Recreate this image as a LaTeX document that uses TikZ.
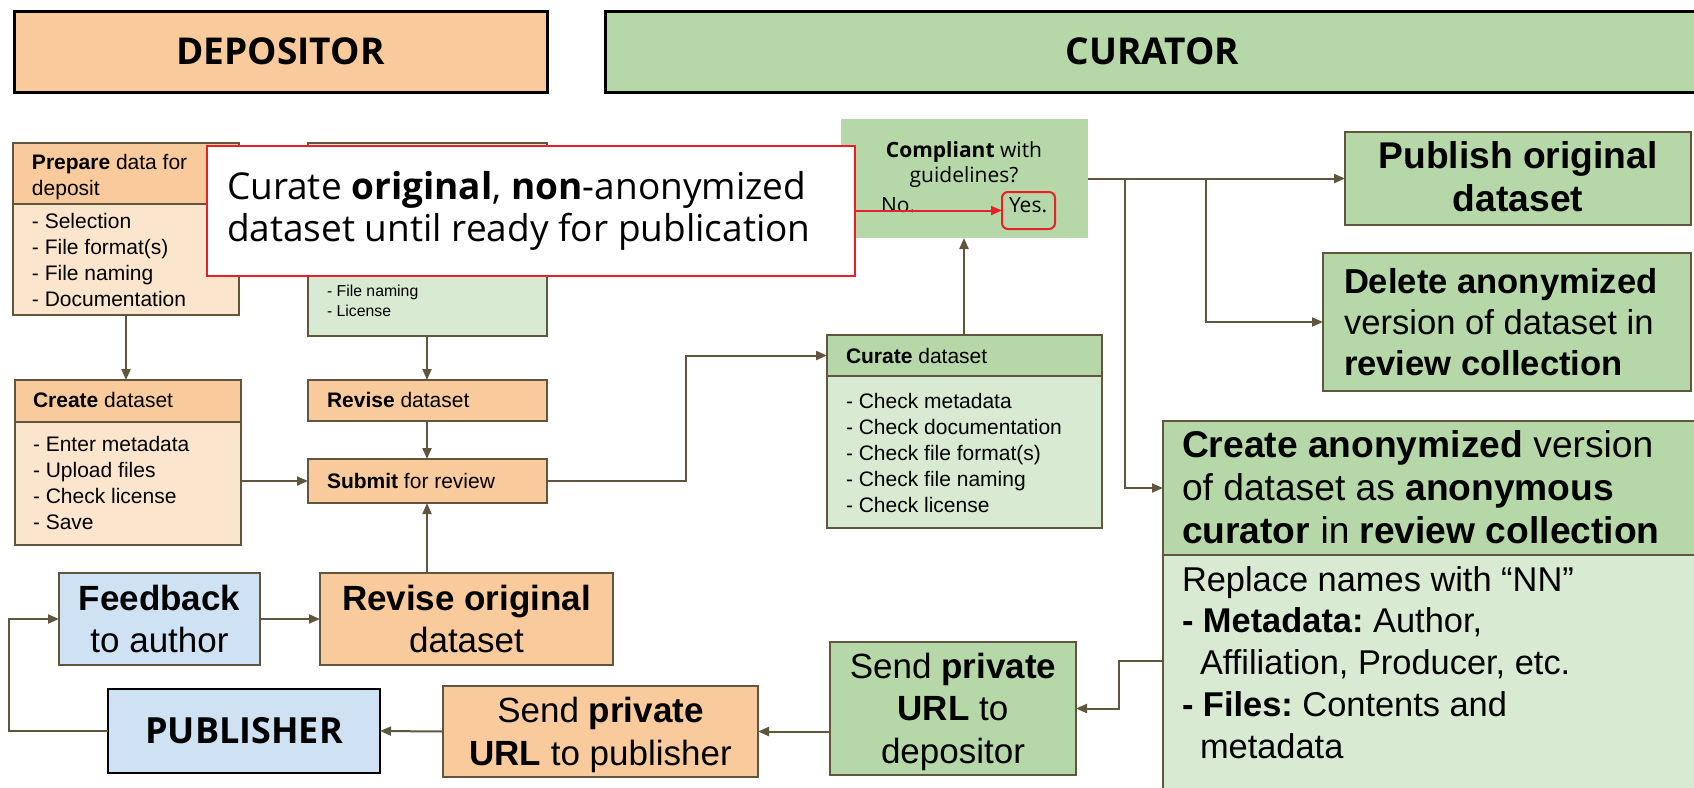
\documentclass[tikz,border=0pt]{standalone}
\usepackage{fontspec}
\setmainfont{Liberation Sans}
\newfontfamily\osans{Open Sans}
\usetikzlibrary{arrows.meta}
\definecolor{orH}{HTML}{F9CB9C}
\definecolor{orL}{HTML}{FCE5CD}
\definecolor{grH}{HTML}{B6D7A8}
\definecolor{grL}{HTML}{D9EAD3}
\definecolor{blu}{HTML}{CFE2F3}
\definecolor{brd}{HTML}{60563E}
\definecolor{redc}{HTML}{E8202A}
\newcommand\Lb[1]{\vtop{\halign{##\hfil\cr#1\crcr}}}
\newcommand\Cb[1]{\vtop{\halign{\hfil##\hfil\cr#1\crcr}}}
\begin{document}
\frenchspacing
\begin{tikzpicture}[x=0.5pt,y=-0.5pt,
  box/.style={draw=brd, line width=1pt, inner sep=0pt, outer sep=0pt, anchor=north west},
  txt/.style={inner sep=0pt, outer sep=0pt, anchor=base west, text=black},
  ctxt/.style={inner sep=0pt, outer sep=0pt, anchor=base, text=black},
  small/.style={font=\fontsize{10.5}{13}\selectfont},
  tiny/.style={font=\fontsize{7.9}{10}\selectfont},
  arr/.style={draw=brd, line width=1pt, -{Triangle[length=5.5pt,width=4.5pt]}},
  hdr/.style={box, draw=black, line width=1.5pt, font={\osans\bfseries\fontsize{18.5}{22}\selectfont}}
]
\path[fill=white] (0,0) rectangle (1694,788);
\useasboundingbox (0,0) rectangle (1694,788);

% headers
\node[hdr, fill=orH, minimum width=266.5pt, minimum height=40.5pt] (depH) at (14,11) {DEPOSITOR};
\node[hdr, fill=grH, minimum width=547.5pt, minimum height=40.5pt, text width=535pt, align=center] (curH) at (605,11) {CURATOR};

% depositor column
\node[box, fill=orH, minimum width=113pt, minimum height=30.5pt] (prepHead) at (13,143) {};
\node[box, fill=orL, minimum width=113pt, minimum height=55.5pt] (prepBody) at (13,204) {};
\node[txt, small] (prepT) at (32,169) {\Lb{\textbf{Prepare} data for\cr deposit}};
\node[txt, small] (prepI) at (32,228) {\Lb{- Selection\cr - File format(s)\cr - File naming\cr - Documentation}};

\node[box, fill=grL, minimum width=119.5pt, minimum height=96.5pt] (revChk) at (308,143) {};
\node[txt, tiny] (revChkI) at (327,296) {\Lb{- File naming\cr - License}};

\node[box, fill=orH, minimum width=113pt, minimum height=21pt] (createHead) at (15,380) {};
\node[box, fill=orL, minimum width=113pt, minimum height=61.5pt] (createBody) at (15,422) {};
\node[txt, small] (createT) at (33,407) {\textbf{Create} dataset};
\node[txt, small] (createI) at (33,451) {\Lb{- Enter metadata\cr - Upload files\cr - Check license\cr - Save}};

\node[box, fill=orH, minimum width=119.5pt, minimum height=20.5pt] (revise) at (308,380) {};
\node[txt, small] (reviseT) at (327,407) {\textbf{Revise} dataset};
\node[box, fill=orH, minimum width=119.5pt, minimum height=22pt] (submit) at (308,459) {};
\node[txt, small] (submitT) at (327,488) {\textbf{Submit} for review};

% curator column
\node[box, draw=none, fill=grH, minimum width=123.5pt, minimum height=59.5pt] (compliant) at (841,119) {};
\node[ctxt, font={\osans\fontsize{10.5}{12.5}\selectfont}] (complT) at (964,157) {\Cb{\textbf{Compliant} with\cr guidelines?}};
\node[txt, font={\osans\fontsize{10.5}{12.5}\selectfont}] (noT) at (881,212) {No.};
\node[box, draw=redc, rounded corners=3pt, minimum width=26.5pt, minimum height=18.5pt] (yes) at (1002,192) {};
\node[txt, font={\osans\fontsize{10.5}{12.5}\selectfont}] (yesT) at (1009,212) {Yes.};

\node[box, fill=grH, minimum width=137.5pt, minimum height=20.5pt] (curateHead) at (827,335) {};
\node[box, fill=grL, minimum width=137.5pt, minimum height=76pt] (curateBody) at (827,376) {};
\node[txt, small] (curateT) at (846,363) {\textbf{Curate} dataset};
\node[txt, small] (curateI) at (846,408) {\Lb{- Check metadata\cr - Check documentation\cr - Check file format(s)\cr - Check file naming\cr - Check license}};

\node[box, fill=grH, minimum width=173pt, minimum height=46.5pt] (publish) at (1345,132) {};
\node[ctxt, font=\fontsize{18.6}{21.5}\selectfont] (publishT) at (1518,168) {\Cb{\textbf{Publish original}\cr \textbf{dataset}}};

\node[box, fill=grH, minimum width=184pt, minimum height=69pt] (delete) at (1323,253) {};
\node[txt, font=\fontsize{17.3}{20.7}\selectfont] (deleteT) at (1344,293) {\Lb{\textbf{Delete anonymized}\cr version of dataset in\cr \textbf{review collection}}};

\node[box, fill=grH, minimum width=268.5pt, minimum height=67pt] (anonHead) at (1163,421) {};
\node[box, fill=grL, minimum width=268.5pt, minimum height=122.5pt] (anonBody) at (1163,555) {};
\node[txt, font=\fontsize{18.6}{21.6}\selectfont] (anonT) at (1182,457) {\Lb{\textbf{Create anonymized} version\cr of dataset as \textbf{anonymous}\cr \textbf{curator} in \textbf{review collection}}};
\node[txt, font=\fontsize{17.2}{20.9}\selectfont] (anonI) at (1182,591) {\Lb{Replace names with “NN”\cr \textbf{- Metadata:} Author,\cr \kern9pt Affiliation, Producer, etc.\cr \textbf{- Files:} Contents and\cr \kern9pt metadata}};

% bottom row
\node[box, fill=blu, minimum width=100.5pt, minimum height=46pt] (feedback) at (59,573) {};
\node[ctxt, font=\fontsize{17.5}{21}\selectfont] (feedbackT) at (159.5,610) {\Cb{\textbf{Feedback}\cr to author}};
\node[box, fill=orH, minimum width=146.5pt, minimum height=46pt] (reviseOrig) at (320,573) {};
\node[ctxt, font=\fontsize{17.5}{21}\selectfont] (reviseOrigT) at (466.5,610) {\Cb{\textbf{Revise original}\cr dataset}};
\node[box, fill=blu, draw=black, line width=1.2pt, minimum width=136pt, minimum height=42pt, font={\osans\bfseries\fontsize{18}{22}\selectfont}] (publisher) at (108,689) {PUBLISHER};
\node[box, fill=orH, minimum width=157.5pt, minimum height=45.5pt] (sendPub) at (443,686) {};
\node[ctxt, font=\fontsize{17.5}{21.5}\selectfont] (sendPubT) at (600.5,722) {\Cb{Send \textbf{private}\cr \textbf{URL} to publisher}};
\node[box, fill=grH, minimum width=123pt, minimum height=66.5pt] (sendDep) at (830,642) {};
\node[ctxt, font=\fontsize{17.5}{21.25}\selectfont] (sendDepT) at (953,678) {\Cb{Send \textbf{private}\cr \textbf{URL} to\cr depositor}};

% connectors
\draw[arr] (126,0 |- prepBody.south) -- (126,0 |- createHead.north);
\draw[arr] (427,0 |- revChk.south) -- (427,0 |- revise.north);
\draw[arr] (427,0 |- revise.south) -- (427,0 |- submit.north);
\draw[arr] (createBody.east |- submit.west) -- (submit.west);
\draw[arr] (submit.east) -- (686,0 |- submit.east) -- (686,0 |- curateHead.west) -- (curateHead.west);
\draw[arr] (964,0 |- curateHead.north) -- (964,0 |- compliant.south);
\draw[arr] (compliant.east |- publish.west) -- (publish.west);
\draw[arr] (1206,0 |- publish.west) -- (1206,0 |- delete.west) -- (delete.west);
\draw[arr] (1125,0 |- publish.west) -- (1125,0 |- anonHead.west) -- (anonHead.west);
\draw[arr] (anonBody.west |- 0,661) -- (1119,661) -- (1119,0 |- sendDep.east) -- (sendDep.east);
\draw[arr] (sendDep.west |- sendPub.east) -- (sendPub.east);
\draw[arr] (sendPub.west) -- (publisher.east);
\draw[arr] (publisher.west) -- (9,0 |- publisher.west) -- (9,0 |- feedback.west) -- (feedback.west);
\draw[arr] (feedback.east) -- (reviseOrig.west);
\draw[arr] (427,0 |- reviseOrig.north) -- (427,0 |- submit.south);

% callout
\node[box, draw=redc, fill=white, minimum width=324pt, minimum height=65pt] (callout) at (207,146) {};
\node[txt, font={\osans\fontsize{18.5}{21}\selectfont}] (calloutT) at (227,199) {\Lb{Curate \textbf{original}, \textbf{non}-anonymized\cr dataset until ready for publication}};
\draw[draw=redc, line width=1pt, -{Triangle[length=5.5pt,width=4.5pt]}] (callout.east |- yes.west) -- (yes.west);
\end{tikzpicture}
\end{document}
